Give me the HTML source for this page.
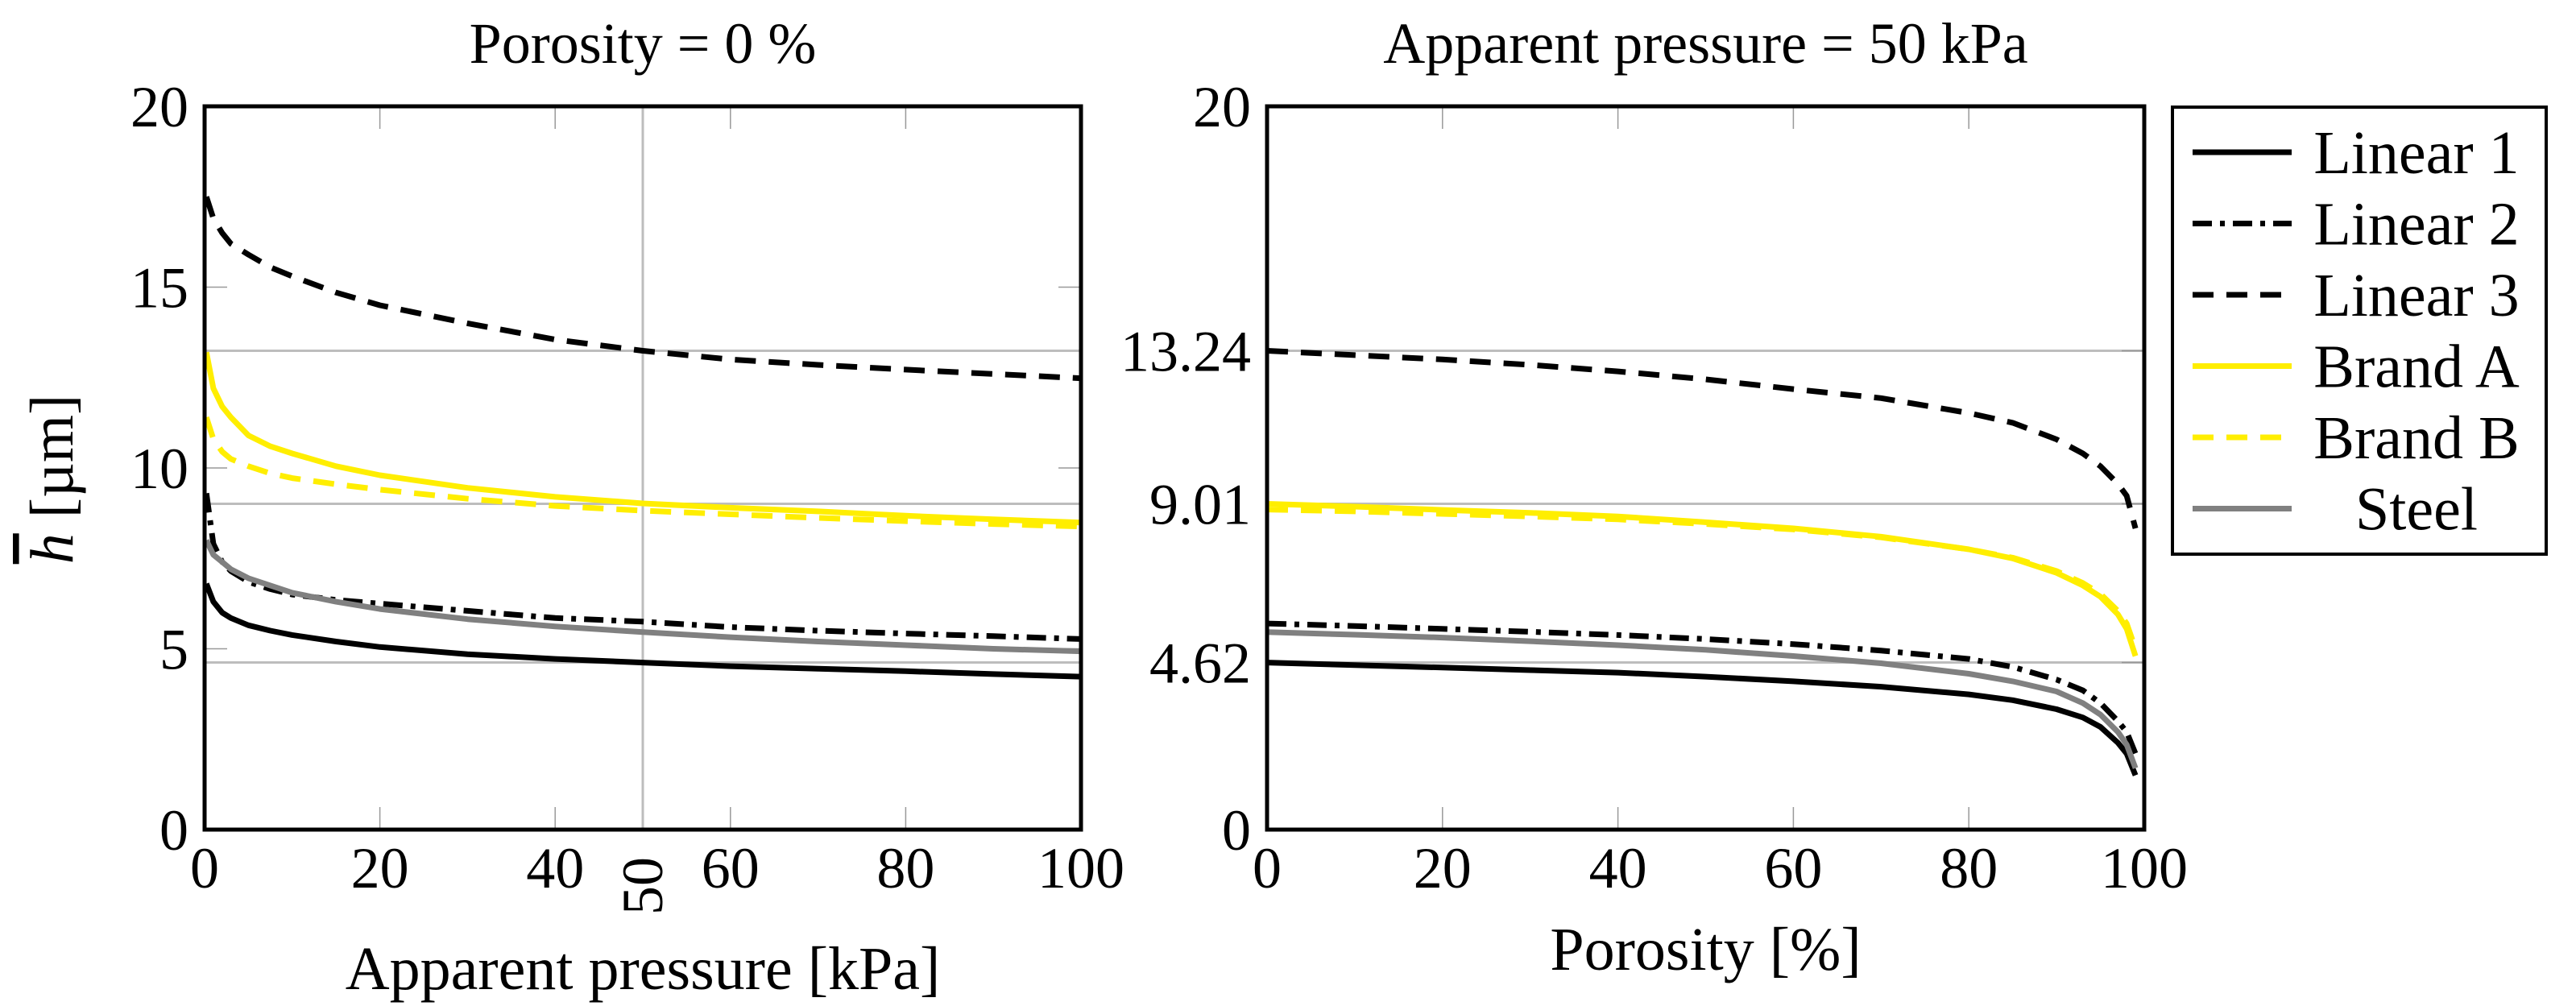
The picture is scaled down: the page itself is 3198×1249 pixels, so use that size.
<!DOCTYPE html>
<html><head><meta charset="utf-8"><style>
html,body{margin:0;padding:0;background:#fff;}
svg{display:block;font-family:"Liberation Serif",serif;}
</style></head><body>
<svg id="chart" width="3198" height="1249" viewBox="0 0 3198 1249" xmlns="http://www.w3.org/2000/svg">
<rect width="3198" height="1249" fill="#fff"/>
<g id="left"></g>
<g id="right"></g>
<g id="legend"></g>
</svg>
<script>
// ---- data ----
const pressureX = [0.2,1,2,3,5,7.5,10,15,20,30,40,50,60,70,80,90,100];
const leftLinear1 = [6.8,6.3,6.0,5.85,5.65,5.5,5.38,5.2,5.05,4.85,4.72,4.62,4.52,4.45,4.38,4.3,4.23];
const leftLinear2 = [9.3,7.9,7.4,7.15,6.85,6.65,6.5,6.35,6.25,6.05,5.85,5.75,5.6,5.5,5.42,5.35,5.27];
const leftLinear3 = [17.5,16.9,16.5,16.2,15.9,15.55,15.3,14.85,14.5,14.0,13.55,13.24,13.0,12.85,12.72,12.6,12.48];
const leftBrandA = [13.2,12.2,11.7,11.4,10.9,10.6,10.4,10.05,9.8,9.45,9.2,9.02,8.9,8.8,8.68,8.58,8.49];
const leftBrandB = [11.4,10.8,10.45,10.25,10.05,9.85,9.72,9.55,9.4,9.15,8.95,8.82,8.72,8.62,8.53,8.45,8.38];
const leftSteel = [8.0,7.6,7.4,7.2,6.95,6.75,6.55,6.3,6.1,5.82,5.62,5.46,5.32,5.2,5.1,5.0,4.93];

const porosityX = [0,10,20,30,40,50,60,70,80,85,90,93,95,97,98,99];
const rightLinear1 = [4.62,4.55,4.48,4.41,4.34,4.23,4.1,3.95,3.74,3.58,3.33,3.1,2.84,2.4,2.1,1.5];
const rightLinear2 = [5.7,5.63,5.55,5.47,5.38,5.27,5.13,4.95,4.72,4.5,4.15,3.85,3.5,3.0,2.7,2.1];
const rightLinear3 = [13.24,13.12,13.0,12.85,12.67,12.45,12.18,11.93,11.52,11.25,10.79,10.4,10.05,9.56,9.23,8.33];
const rightBrandA = [9.01,8.93,8.84,8.76,8.66,8.5,8.33,8.1,7.75,7.5,7.1,6.75,6.44,5.95,5.55,4.8];
const rightBrandB = [8.85,8.8,8.73,8.66,8.58,8.45,8.3,8.08,7.75,7.52,7.15,6.82,6.52,6.05,5.7,5.0];
const rightSteel = [5.46,5.39,5.31,5.21,5.1,4.97,4.8,4.6,4.31,4.1,3.82,3.5,3.18,2.7,2.35,1.7];

const xTicks = [0,20,40,60,80,100];
const leftYTicks = [0,5,10,15,20];
const rightYTicks = [0,4.62,9.01,13.24,20];
const rightYTickLabels = ["0","4.62","9.01","13.24","20"];
const hGridValues = [4.62,9.01,13.24];
const seriesNames = ["Linear 1","Linear 2","Linear 3","Brand A","Brand B","Steel"];

// ---- styles ----
const NS="http://www.w3.org/2000/svg";
const styles = {
 "Linear 1":{c:"#000",d:""},
 "Linear 2":{c:"#000",d:"24 10 6 10"},
 "Linear 3":{c:"#000",d:"26 16"},
 "Brand A":{c:"#ffee00",d:""},
 "Brand B":{c:"#ffee00",d:"26 16"},
 "Steel":{c:"#808080",d:""}
};
function mk(tag,attrs,parent){const e=document.createElementNS(NS,tag);for(const k in attrs)e.setAttribute(k,attrs[k]);parent.appendChild(e);return e;}
const Y0=1030,Y1=132;
const FS=72;

function panel(g,x0,x1,xmax,yTicks,yLabels,vGrid,series,xs,title,xlabel,pfx){
  const sx=v=>x0+(v/xmax)*(x1-x0);
  const sy=v=>Y0-(v/20)*(Y0-Y1);
  hGridValues.forEach(v=>{
    const l=mk("line",{x1:x0,x2:x1,y1:sy(v),y2:sy(v),stroke:"#bdbdbd","stroke-width":3},g);
    
    
  });
  if(vGrid!==null){
    const l=mk("line",{x1:sx(vGrid),x2:sx(vGrid),y1:Y0,y2:Y1,stroke:"#bdbdbd","stroke-width":3},g);
    
    
  }
  xTicks.forEach(v=>{
    [[Y0,Y0-28],[Y1,Y1+28]].forEach(p=>{
      const t=mk("line",{x1:sx(v),x2:sx(v),y1:p[0],y2:p[1],stroke:"#999","stroke-width":1.5},g);
      
      
    });
    const tx=mk("text",{x:sx(v),y:1102,"font-size":FS,"text-anchor":"middle"},g);
    tx.textContent=String(v);
    
    
  });
  yTicks.forEach((v,i)=>{
    [[x0,x0+28],[x1,x1-28]].forEach(p=>{
      const t=mk("line",{x1:p[0],x2:p[1],y1:sy(v),y2:sy(v),stroke:"#999","stroke-width":1.5},g);
      
      
    });
    const tx=mk("text",{x:x0-20,y:sy(v)+25,"font-size":FS,"text-anchor":"end"},g);
    tx.textContent=yLabels[i];
    
    
  });
  seriesNames.forEach((n,k)=>{
    const ys=series[k];
    const pts=xs.map((x,i)=>sx(x).toFixed(1)+","+sy(ys[i]).toFixed(1)).join(" ");
    const s=styles[n];
    const pl=mk("polyline",{points:pts,fill:"none",stroke:s.c,"stroke-width":7,"stroke-linejoin":"round"},g);
    if(s.d)pl.setAttribute("stroke-dasharray",s.d);
    
    
  });
  const fr=mk("rect",{x:x0,y:Y1,width:x1-x0,height:Y0-Y1,fill:"none",stroke:"#000","stroke-width":5},g);
  
  
  const ti=mk("text",{x:(x0+x1)/2,y:78,"font-size":FS,"text-anchor":"middle"},g);
  ti.textContent=title;
  
  
  const xl=mk("text",{x:(x0+x1)/2,y:xlabel.y,"font-size":76,"text-anchor":"middle"},g);
  xl.textContent=xlabel.t;
  
  
  return sx;
}

const gl=document.getElementById("left");
const sxl=panel(gl,254,1342,100,leftYTicks,leftYTicks.map(String),50,
 [leftLinear1,leftLinear2,leftLinear3,leftBrandA,leftBrandB,leftSteel],pressureX,
 "Porosity = 0 %",{t:"Apparent pressure [kPa]",y:1228},"left-");
const r50=mk("text",{x:0,y:0,"font-size":FS,"text-anchor":"middle",transform:"translate("+(sxl(50)+24)+",1100) rotate(-90)"},gl);
r50.textContent="50";


const yl=mk("text",{x:0,y:0,"font-size":76,"text-anchor":"middle",transform:"translate(90,595) rotate(-90)"},gl);
yl.innerHTML='<tspan font-style="italic" text-decoration="overline">h</tspan> [µm]';



const gr=document.getElementById("right");
panel(gr,1573,2662,100,rightYTicks,rightYTickLabels,null,
 [rightLinear1,rightLinear2,rightLinear3,rightBrandA,rightBrandB,rightSteel],porosityX,
 "Apparent pressure = 50 kPa",{t:"Porosity [%]",y:1204},"right-");

const lg=document.getElementById("legend");
const lb=mk("rect",{x:2697,y:133,width:464,height:555,fill:"#fff",stroke:"#000","stroke-width":4},lg);


seriesNames.forEach((n,i)=>{
  const y=189+i*88.5;
  const s=styles[n];
  const ln=mk("line",{x1:2722,x2:2845,y1:y,y2:y,stroke:s.c,"stroke-width":7},lg);
  if(s.d)ln.setAttribute("stroke-dasharray",s.d);
  
  
  const t=mk("text",{x:3000,y:y+26,"font-size":76,"text-anchor":"middle"},lg);
  t.textContent=n;
  
  
});
</script>
</body></html>
